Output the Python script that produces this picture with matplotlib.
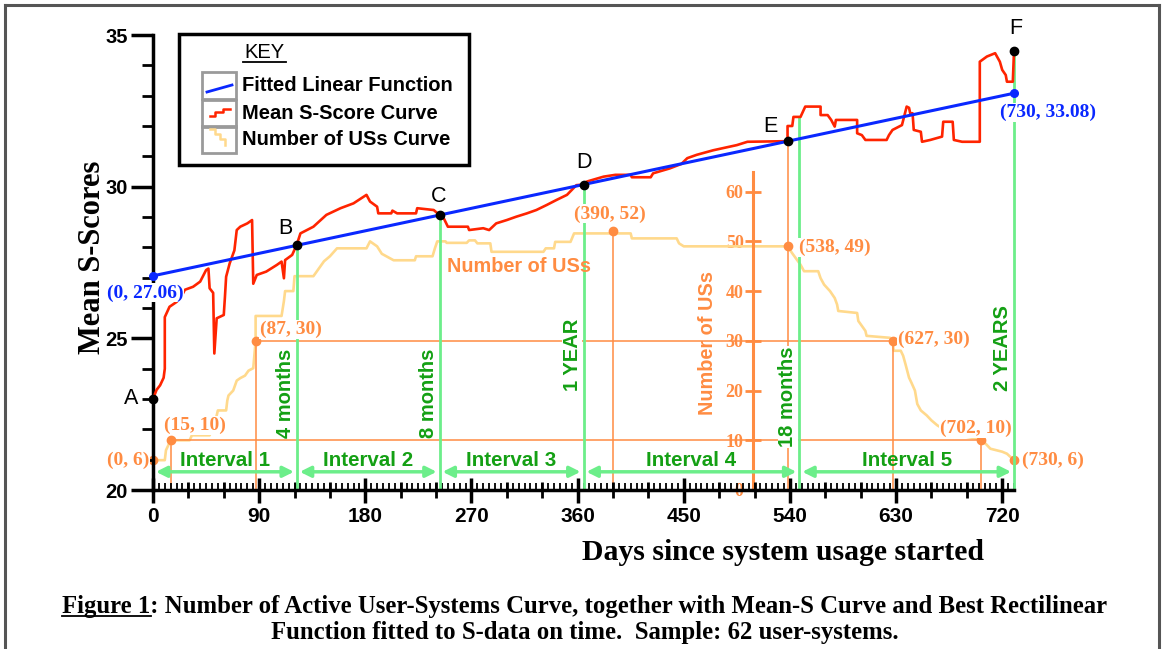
import numpy as np
import matplotlib
matplotlib.use('Agg')
import matplotlib.pyplot as plt
from matplotlib.transforms import Affine2D, IdentityTransform
from matplotlib.lines import Line2D
from matplotlib.patches import Rectangle
from matplotlib.ticker import MultipleLocator

# ---- data ----
red_days = [0, 2, 3, 6, 9, 10, 10, 14, 20, 24, 27, 34, 40, 45, 47, 48, 51, 52, 54, 60,
            61, 62, 65, 69, 71, 74, 80, 84, 85, 88, 96, 105, 109, 111, 112, 118, 122, 125, 136, 147,
            159, 170, 181, 184, 190, 191, 202, 203, 207, 223, 224, 238, 243, 246, 250, 267, 268, 280, 285, 291,
            300, 308, 317, 325, 334, 342, 351, 355, 359, 365, 368, 382, 392, 405, 406, 422, 424, 438, 448, 453,
            461, 475, 495, 504, 538, 538, 542, 543, 549, 553, 566, 566, 572, 575, 578, 579, 597, 597, 601, 604,
            622, 624, 627, 635, 639, 641, 642, 644, 645, 651, 652, 659, 669, 670, 678, 679, 686, 701, 701, 707,
            714, 718, 720, 723, 724, 729, 730]
red_vals = [23.0, 23.2, 23.3, 23.45, 23.7, 24.0, 25.7, 26.04, 26.2, 26.37, 26.6, 26.7, 26.87, 27.25, 27.3, 26.65, 26.5, 24.5, 25.66, 25.77,
            26.37, 27.03, 27.47, 27.9, 28.57, 28.68, 28.79, 28.9, 26.8, 27.09, 27.2, 27.42, 27.53, 26.98, 27.58, 27.75, 28.1, 28.46, 28.68, 29.07,
            29.29, 29.45, 29.73, 29.51, 29.34, 29.12, 29.12, 29.21, 29.12, 29.12, 29.29, 29.23, 29.06, 29.0, 28.68, 28.68, 28.57, 28.63, 28.57, 28.79,
            28.9, 29.01, 29.12, 29.23, 29.4, 29.56, 29.73, 29.89, 30.05, 30.07, 30.17, 30.33, 30.39, 30.39, 30.31, 30.31, 30.44, 30.6, 30.75, 30.94,
            31.05, 31.2, 31.37, 31.48, 31.5, 32.0, 32.0, 32.3, 32.3, 32.64, 32.64, 32.36, 32.36, 32.2, 31.98, 32.2, 32.2, 31.76, 31.7, 31.54,
            31.54, 31.7, 31.87, 32.03, 32.64, 32.6, 32.42, 32.42, 31.87, 31.81, 31.48, 31.54, 31.65, 32.14, 32.14, 31.54, 31.48, 31.48, 34.12, 34.29,
            34.4, 34.12, 33.85, 33.68, 33.46, 33.46, 34.47]

us_days = [0, 10, 11, 13, 15, 31, 33, 48, 50, 52, 54, 55, 62, 63, 64, 68, 71, 74, 78, 81,
           85, 87, 87, 109, 111, 112, 119, 120, 136, 139, 142, 145, 150, 156, 181, 184, 190, 194, 204, 222,
           223, 237, 239, 241, 248, 249, 266, 268, 273, 275, 286, 287, 331, 333, 340, 341, 354, 357, 405, 406,
           444, 446, 450, 538, 542, 549, 552, 564, 566, 569, 574, 578, 580, 581, 597, 598, 601, 604, 605, 625,
           627, 628, 634, 636, 638, 641, 643, 646, 648, 651, 656, 660, 665, 672, 679, 685, 690, 700, 702, 706,
           710, 720, 724, 730]
us_counts = [6, 6, 8, 9, 10, 10, 11, 11, 12, 13, 15, 16, 16, 18, 19, 20, 22, 22.5, 23, 24,
             24.5, 30, 35, 35, 38, 40, 40, 43, 43, 44, 45, 46, 47, 48.6, 48.6, 50, 49, 47.5, 46.2, 46.2,
             47, 47, 48.6, 50, 50, 49.7, 49.7, 50.2, 50.2, 49.6, 49.6, 47.9, 47.9, 48.6, 48.6, 49.9, 49.9, 51.6, 51.6, 50.6,
             50.6, 49.6, 49, 49, 47.6, 45.3, 44, 44, 42.6, 41.3, 40, 38.6, 37.3, 36, 35.6, 34, 33, 32, 31, 30.6,
             30, 28, 28, 27, 25.3, 22.6, 21.6, 20, 17.3, 16, 15, 14, 13, 12, 11.3, 11, 10.7, 10.3, 10, 9.3,
             8.3, 7.7, 7.3, 6]

fit_days = [0, 730]
fit_vals = [27.06, 33.08]

pt_days = [0, 15, 87, 390, 538, 627, 702, 730]
pt_counts = [6, 10, 30, 52, 49, 30, 10, 6]

event_letters = ['A', 'B', 'C', 'D', 'E', 'F']
event_days = [0, 122, 243, 365, 538, 730]

mile_days = [122, 243, 365, 548, 730]
mile_labels = ['4 months', '8 months', '1 YEAR', '18 months', '2 YEARS']
mile_text_y = [23.2, 23.2, 24.45, 23.07, 24.68]

interval_bounds = [0, 122, 243, 365, 548, 730]
interval_labels = ['Interval 1', 'Interval 2', 'Interval 3', 'Interval 4', 'Interval 5']

us_ticks = [0, 10, 20, 30, 40, 50, 60]
x_ticks = [0, 90, 180, 270, 360, 450, 540, 630, 720]
y_ticks = [20, 25, 30, 35]

# ---- style ----
RED = '#FF2400'
BLUE = '#0A28FF'
YEL = '#FFD98C'
ORG = '#FF8C42'
GLINE = '#6CEE8A'
GTXT = '#14A014'
SANS = ['Liberation Sans', 'DejaVu Sans']
SERIF = ['Liberation Serif', 'DejaVu Serif']
NARROW = ['Liberation Sans Narrow', 'DejaVu Sans Condensed', 'Liberation Sans']

W, H = 1164, 649
fig = plt.figure(figsize=(W / 100, H / 100), dpi=100)
pxT = Affine2D().scale(1 / W, -1 / H).translate(0, 1) + fig.transFigure

ax = fig.add_axes([153 / W, 1 - 490 / H, 861 / W, 455 / H])
ax.set_xlim(0, 730)
ax.set_ylim(20, 35)
ax2 = ax.twinx()
ax2.set_ylim(0.7, 91.5)
ax2.set_zorder(ax.get_zorder() - 1)
ax.patch.set_visible(False)

for s in ['top', 'right']:
    ax.spines[s].set_visible(False)
for s in ['left', 'bottom']:
    ax.spines[s].set_linewidth(2.5)
for s in ['top', 'right', 'bottom']:
    ax2.spines[s].set_visible(False)

# primary axes ticks
ax.set_yticks(y_ticks, labels=[str(t) for t in y_ticks], fontfamily=SANS,
              fontweight='bold', fontsize=14.5)
ax.yaxis.set_minor_locator(MultipleLocator(1))
ax.tick_params(axis='y', which='major', length=16, width=2.5, pad=2)
ax.tick_params(axis='y', which='minor', length=8, width=2)
ax.set_xticks(x_ticks, labels=[str(t) for t in x_ticks], fontfamily=NARROW,
              fontweight='bold', fontsize=15)
ax.xaxis.set_minor_locator(MultipleLocator(5))
ax.tick_params(axis='x', which='major', length=18, width=2.5, direction='inout', pad=3)
ax.tick_params(axis='x', which='minor', length=5, width=1.3, direction='in')
sec = ax.secondary_xaxis('bottom')
sec.set_xticks(np.arange(0, 731, 30))
sec.tick_params(axis='x', length=11, width=2, direction='inout', labelbottom=False)
sec.spines['bottom'].set_visible(False)

# secondary (count) axis placed inside the plot
ax2.spines['left'].set_visible(True)
ax2.spines['left'].set_position(('data', 509))
ax2.spines['left'].set_bounds(0, 64)
ax2.spines['left'].set_color(ORG)
ax2.spines['left'].set_linewidth(2.2)
ax2.yaxis.tick_left()
ax2.set_yticks(us_ticks, labels=[str(t) for t in us_ticks], fontfamily=SERIF,
               fontweight='bold', fontsize=13)
ax2.tick_params(axis='y', colors=ORG, length=12, width=2, direction='inout', pad=1)

# curves
ax2.plot(us_days, us_counts, color=YEL, lw=1.9, zorder=2, clip_on=False)
ax2.hlines([10, 30], [15, 87], [702, 627], color=ORG, lw=1.1, zorder=3)
ax2.vlines([15, 87, 390, 627, 702], 0, [10, 30, 52, 30, 10], color=ORG, lw=1.1, zorder=3)
ax2.plot(pt_days, pt_counts, 'o', color=ORG, ms=6, zorder=4, clip_on=False)

ax.plot(red_days, red_vals, color=RED, lw=1.9, zorder=3, clip_on=False)
ax.plot(fit_days, fit_vals, color=BLUE, lw=2.2, zorder=4, clip_on=False)
ax.plot(fit_days, fit_vals, 'o', color=BLUE, ms=5.5, zorder=5, clip_on=False)

fit_at = lambda d: np.interp(d, fit_days, fit_vals)
red_at = lambda d: np.interp(d, red_days, red_vals)

# milestone lines
mile_tops = [fit_at(d) for d in mile_days[:3]] + [32.3, red_vals[-1]]
ax.vlines(mile_days, 20, mile_tops, color=GLINE, lw=2, zorder=2, clip_on=False)
e_val = fit_at(538)
ax.vlines(538, 20, e_val, color=ORG, lw=1.1, zorder=2)

for d, lab, ty in zip(mile_days, mile_labels, mile_text_y):
    ax.annotate(lab, xy=(d, ty), xytext=(-2, 0), textcoords='offset pixels',
                rotation=90, ha='right', va='center', color=GTXT,
                fontfamily=SANS, fontweight='bold', fontsize=14.5, zorder=6,
                bbox=dict(facecolor='white', edgecolor='none', pad=0.5))

# interval arrows
for i, lab in enumerate(interval_labels):
    a, b = interval_bounds[i], interval_bounds[i + 1]
    ax.annotate('', xy=(b - 2.5, 20.6), xytext=(a + 2.5, 20.6),
                arrowprops=dict(arrowstyle='<|-|>', color=GLINE, lw=2.5,
                                mutation_scale=16, shrinkA=0, shrinkB=0), zorder=6)
    ax.text((a + b) / 2, 20.98, lab, ha='center', va='center', color=GTXT,
            fontfamily=SANS, fontweight='bold', fontsize=14.8, zorder=7)

# event points A..F
ev_vals = [red_vals[0], fit_at(122), fit_at(243), fit_at(365), e_val, red_vals[-1]]
ev_off = [(-22, 0), (-12, 17), (-1, 19), (0, 22), (-17, 15), (2, 23)]
ax.plot(event_days, ev_vals, 'o', color='black', ms=6, zorder=8, clip_on=False)
for d, v, lab, off in zip(event_days, ev_vals, event_letters, ev_off):
    ax.annotate(lab, xy=(d, v), xytext=off, textcoords='offset pixels',
                ha='center', va='center', fontfamily=SANS, fontsize=15.5,
                color='black', zorder=8, annotation_clip=False)

# value labels
wb = dict(facecolor='white', edgecolor='none', pad=0.5)
ax.annotate('(0, 27.06)', xy=(0, 27.06), xytext=(-8, -17), textcoords='offset pixels',
            ha='center', va='center', color=BLUE, fontfamily=SERIF, fontweight='bold',
            fontsize=14, bbox=wb, zorder=9, annotation_clip=False)
ax.annotate('(730, 33.08)', xy=(730, 33.08), xytext=(34, -19), textcoords='offset pixels',
            ha='center', va='center', color=BLUE, fontfamily=SERIF, fontweight='bold',
            fontsize=14, bbox=wb, zorder=9, annotation_clip=False)

pt_off = [(-4, 0, 'right'), (-7, 15, 'left'), (4, 11, 'left'), (-3, 17.5, 'center'),
          (11, -1.5, 'left'), (5, 1, 'left'), (-5, 12, 'center'), (8, 0, 'left')]
for d, c, (ox, oy, ha) in zip(pt_days, pt_counts, pt_off):
    ax.annotate('(%d, %d)' % (d, c), xy=(d, c), xycoords=ax2.transData,
                xytext=(ox, oy), textcoords='offset pixels', ha=ha, va='center',
                color=ORG, fontfamily=SERIF, fontweight='bold', fontsize=14,
                bbox=wb, zorder=9, annotation_clip=False)

ax.text(249, 45, 'Number of USs', transform=ax2.transData, ha='left', va='center',
        color=ORG, fontfamily=SANS, fontweight='bold', fontsize=14.3, zorder=6)
ax.text(470.5, 29.6, 'Number of USs', transform=ax2.transData, rotation=90,
        ha='center', va='center', color=ORG, fontfamily=SANS, fontweight='bold',
        fontsize=14.3, zorder=6)

# axis titles
fig.text(93, 257, 'Mean S-Scores', transform=pxT, rotation=90, ha='center', va='center',
         fontfamily=SERIF, fontweight='bold', fontsize=22)
fig.text(783, 553, 'Days since system usage started', transform=pxT, ha='center',
         va='center', fontfamily=SERIF, fontweight='bold', fontsize=21.4)

# key
fig.add_artist(Rectangle((179, 34), 290, 131, transform=pxT, fill=False,
                         edgecolor='black', lw=2.5))
fig.text(264, 52, 'KEY', transform=pxT, ha='center', va='center', fontfamily=SANS,
         fontsize=14.5)
fig.add_artist(Line2D([243, 286], [62, 62], transform=pxT, color='black', lw=1.3))
key_rows = [(72, 'Fitted Linear Function'), (100, 'Mean S-Score Curve'),
            (126, 'Number of USs Curve')]
for top, lab in key_rows:
    fig.add_artist(Rectangle((202, top), 34, 27, transform=pxT, fill=False,
                             edgecolor='#9A9A9A', lw=2))
    fig.text(242, top + 13.5, lab, transform=pxT, ha='left', va='center',
             fontfamily=SANS, fontweight='bold', fontsize=14.5)
fig.add_artist(Line2D([207, 232], [92, 85], transform=pxT, color=BLUE, lw=2))
fig.add_artist(Line2D([210, 215, 215, 223, 223, 230], [116, 116, 112, 112, 109, 109],
                      transform=pxT, color=RED, lw=1.8))
fig.add_artist(Line2D([210, 215, 215, 220, 220, 225, 225], [129, 129, 134, 134, 139, 139, 145],
                      transform=pxT, color=YEL, lw=1.8))

# caption
CAP = 17.8
cap1 = fig.text(585, 607, 'Figure 1: Number of Active User-Systems Curve, together with '
                'Mean-S Curve and Best Rectilinear', transform=pxT, ha='center', va='center',
                fontfamily=SERIF, fontweight='bold', fontsize=CAP)
fig.text(585, 633, 'Function fitted to S-data on time.  Sample: 62 user-systems.',
         transform=pxT, ha='center', va='center', fontfamily=SERIF, fontweight='bold',
         fontsize=CAP)
fig.canvas.draw()
r = fig.canvas.get_renderer()
bb = cap1.get_window_extent(r)
tmp = fig.text(0, 0, 'Figure 1', fontfamily=SERIF, fontweight='bold', fontsize=CAP)
uw = tmp.get_window_extent(r).width
tmp.remove()
fig.add_artist(Line2D([bb.x0, bb.x0 + uw], [bb.y0 + 3, bb.y0 + 3],
                      transform=IdentityTransform(), color='black', lw=1.3))

# page border
for xs, ys in [([5, 5], [5, 649]), ([5, 1159], [5, 5]), ([1159, 1159], [5, 649])]:
    fig.add_artist(Line2D(xs, ys, transform=pxT, color='#555555', lw=2.2))

fig.savefig('out.png', dpi=100)
